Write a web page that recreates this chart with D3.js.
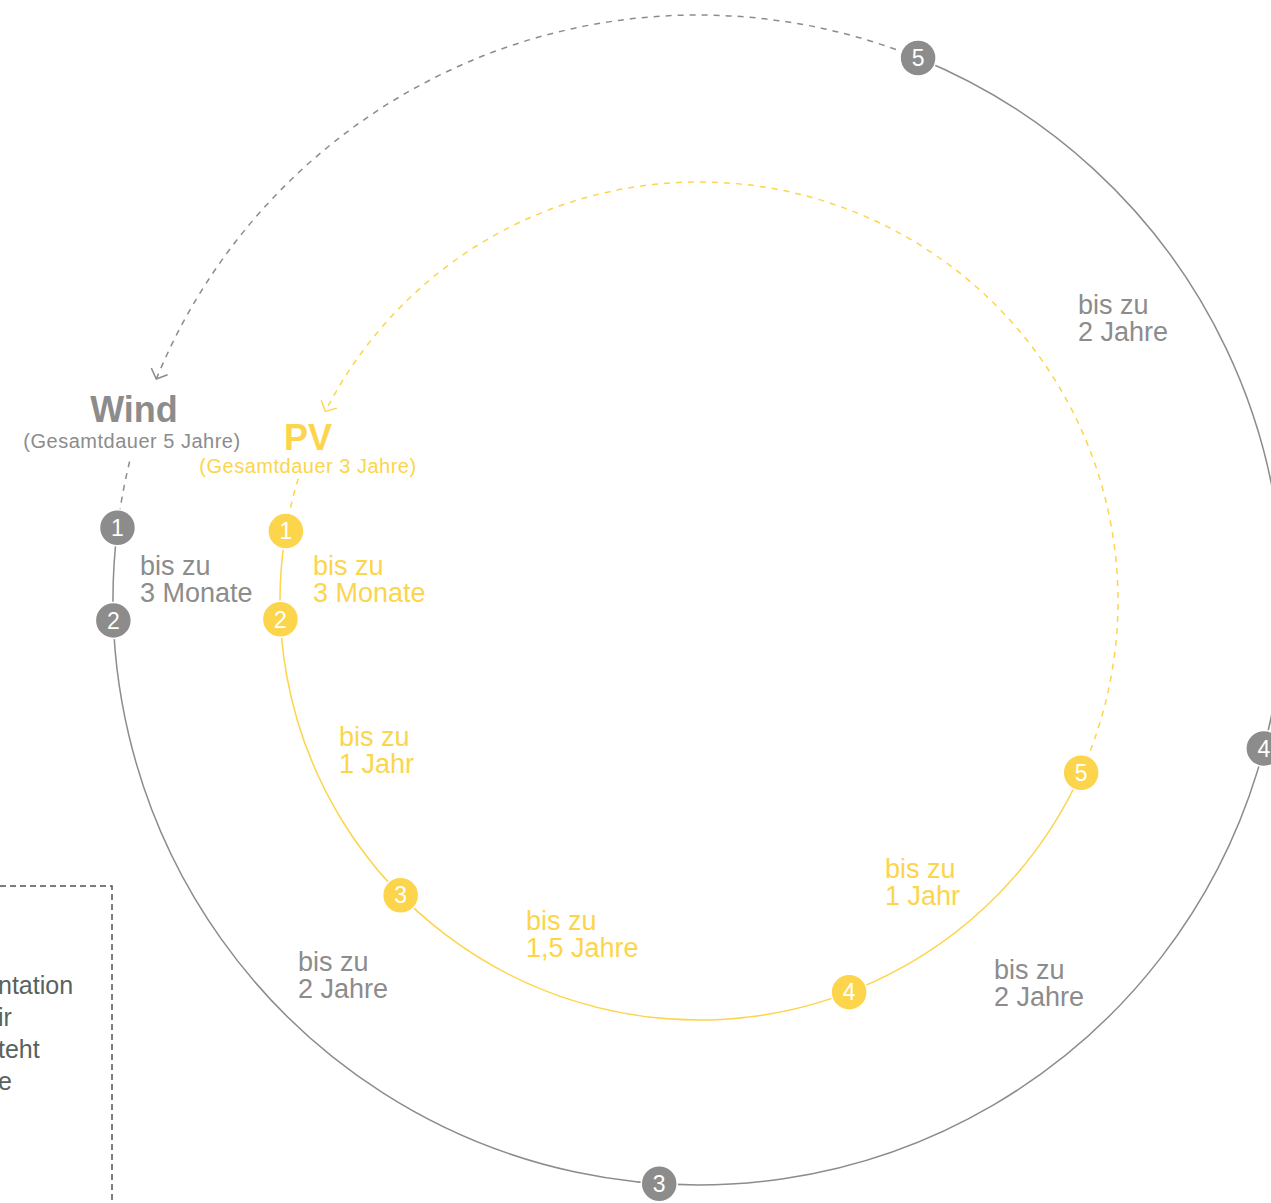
<!DOCTYPE html>
<html>
<head>
<meta charset="utf-8">
<script src="https://cdn.jsdelivr.net/npm/d3@7"></script>
<style>
  html, body { margin: 0; padding: 0; background: #ffffff; overflow: hidden; }
  svg { display: block; font-family: "Liberation Sans", Arial, Helvetica, sans-serif; }
</style>
</head>
<body>
<svg id="chart" width="1271" height="1203"></svg>
<script>
// ---------------- DATA ----------------
const processes = ["Wind", "PV"];
const totalDurationText = ["(Gesamtdauer 5 Jahre)", "(Gesamtdauer 3 Jahre)"];
const stepNumbers = [1, 2, 3, 4, 5];
// phase durations in years between consecutive steps
const windDurations = [0.25, 2, 2, 2];
const pvDurations = [0.25, 1, 1.5, 1];
const windDurationLabels = ["3 Monate", "2 Jahre", "2 Jahre", "2 Jahre"];
const pvDurationLabels = ["3 Monate", "1 Jahr", "1,5 Jahre", "1 Jahr"];
const labelPrefix = "bis zu";
const noteFragments = ["ntation", "ir", "teht", "e"];

// ---------------- LAYOUT / STYLE ----------------
const GRAY = "#8c8c8c";
const YELLOW = "#fcd54c";
const layout = {
  Wind: {
    color: GRAY, cx: 698, cy: 600, r: 585,
    nodeAngles: [277.1, 268, 183.8, 104.7, 22.1],
    returnEnd: -67.8, connectorStart: 283.7,
    title: [134, 422], subtitle: [132, 448],
    labelPos: [[140, 575], [298, 971], [994, 979], [1078, 314]]
  },
  PV: {
    color: YELLOW, cx: 699, cy: 601, r: 419,
    nodeAngles: [279.6, 267.5, 225.4, 159, 114.2],
    returnEnd: -63.1, connectorStart: 287,
    title: [308, 450], subtitle: [308, 473],
    labelPos: [[313, 575], [339, 746], [526, 930], [885, 878]]
  }
};

const svg = d3.select("#chart");
const rad = d => d * Math.PI / 180;

function pointAt(L, theta, r) {
  const rr = r === undefined ? L.r : r;
  return [L.cx + rr * Math.sin(rad(theta)), L.cy - rr * Math.cos(rad(theta))];
}
function arcPath(L, t0, t1) {
  const p = d3.path();
  const a0 = rad(t0 - 90), a1 = rad(t1 - 90);
  p.moveTo(L.cx + L.r * Math.cos(a0), L.cy + L.r * Math.sin(a0));
  p.arc(L.cx, L.cy, L.r, a0, a1, a1 < a0);
  return p.toString();
}

// ---------------- NOTE BOX (left, cut off) ----------------
const note = svg.append("g");
note.append("rect")
  .attr("x", -20).attr("y", 886).attr("width", 132).attr("height", 400)
  .attr("fill", "none").attr("stroke", "#4c5653").attr("stroke-width", 1.5)
  .attr("stroke-dasharray", "6 4");
note.selectAll("text").data(noteFragments).join("text")
  .attr("x", -2).attr("y", (d, i) => 994 + i * 32)
  .attr("font-size", 25).attr("fill", "#56635f")
  .text(d => d);

// ---------------- CIRCLES ----------------
const series = [
  { name: "Wind", durations: windDurations, labels: windDurationLabels, total: totalDurationText[0] },
  { name: "PV", durations: pvDurations, labels: pvDurationLabels, total: totalDurationText[1] }
];

series.forEach(s => {
  const L = layout[s.name];
  const cum = [0];
  s.durations.forEach(d => cum.push(cum[cum.length - 1] + d));
  const angle = d3.scaleLinear().domain(cum).range(L.nodeAngles);
  const g = svg.append("g");

  // solid process arc
  g.append("path")
    .attr("d", arcPath(L, angle(cum[0]), angle(cum[cum.length - 1])))
    .attr("fill", "none").attr("stroke", L.color).attr("stroke-width", 1.5);

  // dashed return arc (from last step back towards the title)
  g.append("path")
    .attr("d", arcPath(L, angle(cum[cum.length - 1]), L.returnEnd))
    .attr("fill", "none").attr("stroke", L.color).attr("stroke-width", 1.5)
    .attr("stroke-dasharray", "6 6");

  // dashed connector from title to step 1
  g.append("path")
    .attr("d", arcPath(L, L.connectorStart, angle(0)))
    .attr("fill", "none").attr("stroke", L.color).attr("stroke-width", 1.5)
    .attr("stroke-dasharray", "6 6");

  // arrowhead
  const tip = pointAt(L, L.returnEnd);
  const th = rad(L.returnEnd);
  const back = Math.atan2(Math.sin(th), Math.cos(th)); // direction opposite to travel
  const armLen = 12, spread = rad(47);
  const arm1 = [tip[0] + armLen * Math.cos(back - spread), tip[1] + armLen * Math.sin(back - spread)];
  const arm2 = [tip[0] + armLen * Math.cos(back + spread), tip[1] + armLen * Math.sin(back + spread)];
  g.append("path")
    .attr("d", d3.line()([arm1, tip, arm2]))
    .attr("fill", "none").attr("stroke", L.color).attr("stroke-width", 1.5);

  // nodes
  const nodes = g.selectAll("g.node").data(stepNumbers).join("g")
    .attr("class", "node")
    .attr("transform", (d, i) => `translate(${pointAt(L, angle(cum[i])).join(",")})`);
  nodes.append("circle").attr("r", 18).attr("fill", L.color)
    .attr("stroke", "#ffffff").attr("stroke-width", 1.5);
  nodes.append("text").attr("text-anchor", "middle").attr("dy", "0.36em")
    .attr("font-size", 23).attr("fill", "#ffffff").text(d => d);

  // duration labels
  const lab = g.selectAll("text.lab").data(s.labels).join("text")
    .attr("class", "lab")
    .attr("font-size", 27).attr("fill", L.color);
  lab.append("tspan").attr("x", (d, i) => L.labelPos[i][0]).attr("y", (d, i) => L.labelPos[i][1]).text(labelPrefix);
  lab.append("tspan").attr("x", (d, i) => L.labelPos[i][0]).attr("y", (d, i) => L.labelPos[i][1] + 27).text(d => d);

  // titles
  g.append("text").attr("x", L.title[0]).attr("y", L.title[1])
    .attr("text-anchor", "middle").attr("font-size", 36).attr("font-weight", "bold")
    .attr("fill", L.color).text(s.name);
  g.append("text").attr("x", L.subtitle[0]).attr("y", L.subtitle[1])
    .attr("text-anchor", "middle").attr("font-size", 20).attr("letter-spacing", "0.5px")
    .attr("fill", L.color).text(s.total);
});
</script>
</body>
</html>
